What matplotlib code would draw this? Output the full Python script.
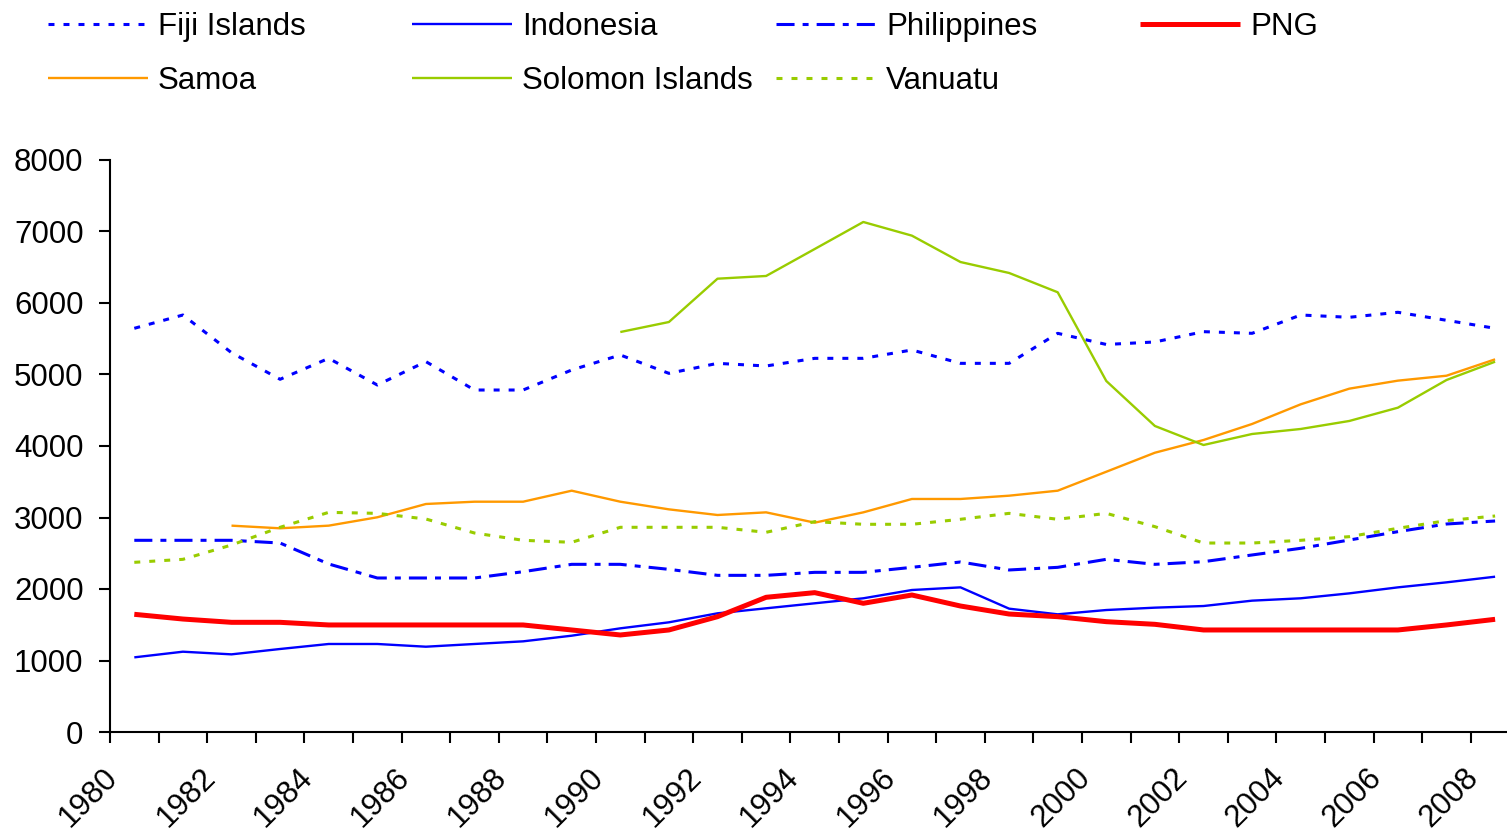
import numpy as np
import matplotlib
matplotlib.use("Agg")
import matplotlib.pyplot as plt
import matplotlib.transforms as mtransforms

plt.rcParams['font.family'] = ['Liberation Sans', 'DejaVu Sans']
plt.rcParams['lines.scale_dashes'] = False

nan = np.nan
years = list(range(1980, 2009))

fiji = [5646, 5832, 5305, 4933, 5226, 4853, 5180, 4783, 4783, 5063,
        5273, 5016, 5156, 5119, 5226, 5226, 5343, 5156, 5156, 5576,
        5420, 5455, 5599, 5576, 5832, 5800, 5870, 5758, 5646]
indonesia = [1044, 1123, 1086, 1161, 1231, 1231, 1193, 1231, 1268, 1347,
             1450, 1534, 1660, 1730, 1800, 1870, 1986, 2023, 1725, 1646,
             1706, 1739, 1762, 1837, 1870, 1939, 2023, 2093, 2172]
philippines = [2681, 2681, 2681, 2643, 2350, 2154, 2154, 2154, 2242, 2345,
               2345, 2275, 2191, 2191, 2233, 2233, 2303, 2378, 2266, 2303,
               2415, 2345, 2382, 2476, 2569, 2685, 2802, 2909, 2951]
png = [1646, 1580, 1534, 1534, 1497, 1497, 1497, 1497, 1497, 1427,
       1357, 1427, 1613, 1884, 1949, 1800, 1916, 1762, 1650, 1613,
       1543, 1506, 1427, 1427, 1427, 1427, 1427, 1497, 1576]
samoa = [nan, nan, 2886, 2849, 2886, 3003, 3189, 3221, 3221, 3375,
         3221, 3114, 3035, 3072, 2928, 3072, 3259, 3259, 3305, 3375,
         3640, 3906, 4084, 4308, 4583, 4802, 4914, 4983, 5212]
solomon = [nan, nan, nan, nan, nan, nan, nan, nan, nan, nan,
           5594, 5734, 6340, 6378, 6755, 7133, 6942, 6573, 6420, 6150,
           4909, 4280, 4014, 4168, 4238, 4350, 4536, 4923, 5179]
vanuatu = [2373, 2415, 2615, 2863, 3072, 3058, 2979, 2783, 2681, 2653,
           2863, 2863, 2863, 2793, 2942, 2905, 2905, 2975, 3058, 2975,
           3058, 2872, 2643, 2643, 2681, 2732, 2849, 2956, 3021]

names = ['Fiji Islands', 'Indonesia', 'Philippines', 'PNG',
         'Samoa', 'Solomon Islands', 'Vanuatu']
series = [fiji, indonesia, philippines, png, samoa, solomon, vanuatu]

blue = '#0000FF'
red = '#FF0000'
orange = '#FF9900'
green = '#99CC00'
dot = (0, (4.3, 6.5))
dashdot = (0, (13, 5.8, 4.3, 5.8))
styles = [
    dict(color=blue, lw=2.2, ls=dot),
    dict(color=blue, lw=1.7, ls='-'),
    dict(color=blue, lw=2.2, ls=dashdot),
    dict(color=red, lw=3.6, ls='-'),
    dict(color=orange, lw=1.7, ls='-'),
    dict(color=green, lw=1.7, ls='-'),
    dict(color=green, lw=2.2, ls=dot),
]

fs = 22.5
fig = plt.figure(figsize=(15.07, 8.34), dpi=100)
ax = fig.add_axes([110/1507, 1 - 732/834, 29*48.6/1507, (732-160)/834])

x = np.arange(len(years)) + 0.5
handles = []
for s, st in zip(series, styles):
    h, = ax.plot(x, s, solid_capstyle='butt', dash_capstyle='butt', **st)
    handles.append(h)

ax.set_xlim(0, len(years))
ax.set_ylim(0, 8000)
ax.set_yticks(range(0, 8001, 1000))
ax.set_xticks(range(len(years)))
ax.set_xticklabels([str(y) if y % 2 == 0 else '' for y in years],
                   rotation=45, ha='right', va='top', rotation_mode='anchor')
ax.tick_params(axis='both', direction='out', length=8, width=1.5,
               labelsize=fs, colors='black')
ax.tick_params(axis='y', pad=11)
ax.tick_params(axis='x', pad=14)
# nudge year labels a little to the left
shift = mtransforms.ScaledTranslation(-7/100, 0, fig.dpi_scale_trans)
for lab in ax.get_xticklabels():
    lab.set_transform(lab.get_transform() + shift)
for sp in ['top', 'right']:
    ax.spines[sp].set_visible(False)
for sp in ['left', 'bottom']:
    ax.spines[sp].set_linewidth(1.5)

# legend: four evenly spaced columns of two rows
cols = [[0, 4], [1, 5], [2, 6], [3]]
col_x = [48, 412, 776, 1140]
for cx, idx in zip(col_x, cols):
    fig.legend([handles[i] for i in idx], [names[i] for i in idx],
               loc='upper left', bbox_to_anchor=(cx/1507, 1 - 12/834),
               frameon=False, fontsize=fs, handlelength=3.2,
               handletextpad=0.32, labelspacing=0.78,
               borderpad=0, borderaxespad=0)

fig.savefig('out.png', dpi=100)
